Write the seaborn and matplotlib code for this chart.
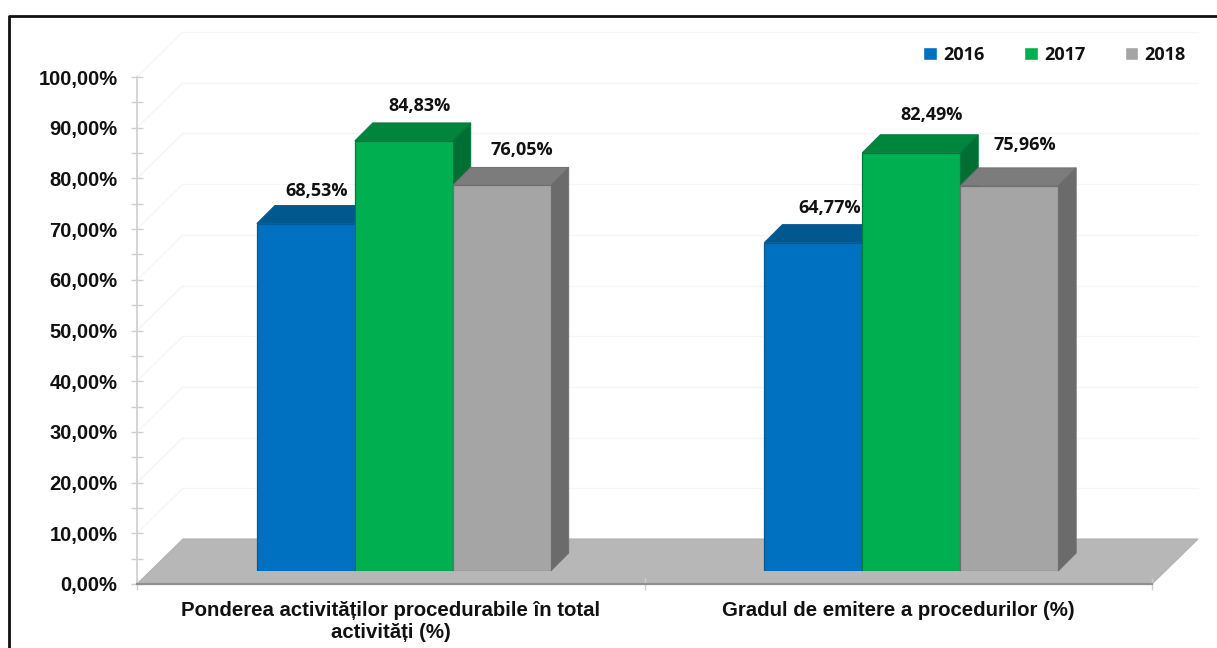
import pandas as pd
import matplotlib
matplotlib.use('Agg')
import matplotlib.pyplot as plt
import seaborn as sns
from matplotlib.lines import Line2D
from matplotlib.patches import Polygon
from matplotlib.ticker import FixedLocator, FuncFormatter
from matplotlib.transforms import Affine2D

# data
categories = ['Ponderea activităților procedurabile în total\nactivități (%)',
              'Gradul de emitere a procedurilor (%)']
years = ['2016', '2017', '2018']
values_2016 = [68.53, 64.77]
values_2017 = [84.83, 82.49]
values_2018 = [76.05, 75.96]
y_ticks = [0, 10, 20, 30, 40, 50, 60, 70, 80, 90, 100]

FRONT = ['#0070C0', '#00B050', '#A5A5A5']
EDGE = ['#045a94', '#007a3a', '#6f6f6f']
TOP = ['#00588f', '#00853c', '#7c7c7c']
SIDE = ['#004f80', '#006f33', '#6b6b6b']
W, H = 1217, 648
DEPTH = 18   # px, bar depth
WALL_X, WALL_Y = 46, 45   # px, floor/wall depth


def axes_box(x0, y_bottom, x1, y_top):
    return [x0 / W, (H - y_bottom) / H, (x1 - x0) / W, (y_bottom - y_top) / H]


df = pd.DataFrame({
    'category': categories * 3,
    'year': [y for y in years for _ in categories],
    'value': values_2016 + values_2017 + values_2018,
})

sns.set_theme(style='white')
fig = plt.figure(figsize=(W / 100, H / 100), dpi=100, facecolor='white')

# ── axis with ticks, floor and back wall ────────────────────
ax = fig.add_axes(axes_box(137, 584, 1152, 77))
ax.set_xlim(-0.5, 1.5)
ax.set_ylim(0, 100)
ax.patch.set_alpha(0)
sns.despine(ax=ax)
ax.spines['left'].set_color('#cfcfcf')
ax.spines['bottom'].set_color('#8f8f8f')
ax.spines['bottom'].set_linewidth(1.6)

ax.yaxis.set_major_locator(FixedLocator(y_ticks))
ax.yaxis.set_minor_locator(FixedLocator([t + 5 for t in y_ticks[:-1]]))
ax.yaxis.set_major_formatter(FuncFormatter(lambda v, _: f'{v:.2f}%'.replace('.', ',')))
ax.tick_params(axis='y', which='both', left=True, direction='inout', length=8,
               width=1, color='#cfcfcf', pad=10)
ax.set_xticks([0, 1], categories)
ax.set_xticks([-0.5, 0.5, 1.5], minor=True)
ax.tick_params(axis='x', which='major', length=0, pad=12)
ax.tick_params(axis='x', which='minor', bottom=True, direction='inout', length=9,
               width=1, color='#cfcfcf')
for lab in ax.get_yticklabels():
    lab.set_family('Liberation Sans')
    lab.set_weight('bold')
    lab.set_color('#111111')
    lab.set_fontsize(14.5)
for lab in ax.get_xticklabels():
    lab.set_family('Liberation Sans')
    lab.set_weight('bold')
    lab.set_color('#111111')
    lab.set_fontsize(14.7)
    lab.set_linespacing(1.2)

wall = ax.transData + Affine2D().translate(WALL_X, WALL_Y)
for t in y_ticks[1:]:
    ax.plot([-0.5, 1.5], [t, t], color='#f5f5f5', lw=1, transform=wall, clip_on=False, zorder=1)
    p0 = ax.transData.transform((-0.5, t))
    fig.add_artist(Line2D([p0[0], p0[0] + WALL_X], [p0[1], p0[1] + WALL_Y], color='#f5f5f5', lw=1,
                          transform=None, zorder=-2))

floor0 = ax.transData.transform((-0.5, 0))
floor1 = ax.transData.transform((1.5, 0))
fig.add_artist(Polygon([floor0, floor1, floor1 + (WALL_X, WALL_Y), floor0 + (WALL_X, WALL_Y)],
                       closed=True, facecolor='#b7b7b7', edgecolor='#b0b0b0', lw=0.8,
                       transform=None, zorder=-1))

# ── bars sit on the front plane, shifted from the tick axis ─
bx = fig.add_axes(axes_box(150, 571, 1165, 64))
bx.patch.set_alpha(0)
sns.barplot(data=df, x='category', y='value', hue='year', order=categories, hue_order=years,
            palette=FRONT, saturation=1, width=0.579, gap=0, dodge=True, ax=bx)
bx.set_xlim(-0.5, 1.5)
bx.set_ylim(0, 100)
bx.set_axis_off()

label_offsets = [[(11, 33), (16, 35)], [(16, 35), (20, 38)], [(20, 35), (16, 41)]]
for i, cont in enumerate(bx.containers):
    for j, bar in enumerate(cont):
        bar.set_edgecolor(EDGE[i])
        bar.set_linewidth(0.9)
        bar.set_zorder(3 + 2 * i)
        x0, x1, h = bar.get_x(), bar.get_x() + bar.get_width(), bar.get_height()
        px0, px1 = bx.transData.transform([(x0, h), (x1, h)])
        base = bx.transData.transform((x1, 0))
        d = (DEPTH, DEPTH)
        bx.add_patch(Polygon([px0, px1, px1 + d, px0 + d], closed=True, transform=None,
                             facecolor=TOP[i], edgecolor=EDGE[i], lw=0.7, zorder=2 + 2 * i,
                             clip_on=False))
        bx.add_patch(Polygon([px1, base, base + d, px1 + d], closed=True, transform=None,
                             facecolor=SIDE[i], edgecolor=EDGE[i], lw=0.7, zorder=2 + 2 * i,
                             clip_on=False))
        bx.annotate(f'{h:.2f}%'.replace('.', ','), xy=((x0 + x1) / 2, h),
                    xytext=label_offsets[i][j], textcoords='offset pixels',
                    ha='center', va='center', family='Open Sans', weight='bold',
                    fontsize=13, color='#111111', zorder=20, annotation_clip=False)

leg = bx.legend(loc='center left', bbox_to_anchor=(923 / W, 1 - 54.5 / H),
                bbox_transform=fig.transFigure, ncol=3, frameon=False, borderpad=0,
                borderaxespad=0, handlelength=0.75, handleheight=0.75, handletextpad=0.35,
                columnspacing=2.2, prop={'family': 'Open Sans', 'weight': 'bold', 'size': 13})
for txt in leg.get_texts():
    txt.set_color('#111111')

# black frame, cut off on the right and at the bottom like the screenshot
fig.add_artist(Line2D([9, 9, W], [0, H - 15.5, H - 15.5], color='#111111', lw=2, transform=None))

plt.savefig('out.png', dpi=100, facecolor='white')
